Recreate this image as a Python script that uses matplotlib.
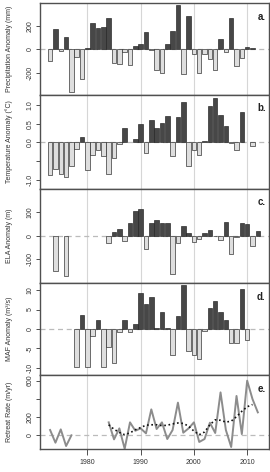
import numpy as np
import matplotlib
matplotlib.use("Agg")
import matplotlib.pyplot as plt

plt.rcParams['font.family'] = ['Liberation Sans', 'DejaVu Sans']

# data
years_p = np.arange(1973, 2012)
precip = [-100, 174, -14, 108, -363, -63, -251, 14, 223, 183, 191, 271, -117, -128,
          -26, -131, 26, 46, 151, -9, -177, -200, 46, 154, 380, -214, 286, -43,
          -206, -43, -80, -177, 89, -20, 266, -146, -77, 23, 14]

years_t = np.arange(1973, 2012)
temp = [-0.875, -0.72, -0.85, -0.94, -0.63, -0.17, 0.14, -0.74, -0.34, -0.2, -0.38,
        -0.86, -0.42, -0.05, 0.375, np.nan, 0.09, 0.5, -0.29, 0.6, 0.38, 0.52, 0.7,
        -0.36, 0.68, 1.09, -0.63, -0.21, -0.35, 0.03, 0.98, 1.18, 0.73, 0.45, -0.03,
        -0.2, 0.81, np.nan, -0.1]

years_e = np.array([1974, 1976] + list(range(1984, 2013)))
ela = [-150, -173, -30, 14, 29, -24, 56, 106, 113, -59, 53, 67, 56, 56, -166, -33,
       43, 10, -27, -16, 13, 24, -1, -20, 57, -80, -4, 54, 51, -46, 20]

years_m = np.arange(1978, 2011)
maf = [-9.7, 3.5, -9.7, -1.7, 2.3, -9.7, -4.6, -8.6, -0.7, 2.3, -0.7, 1.3, 9.3, 6.3,
       8.3, 0.3, 4.4, 0.3, -6.7, 3.3, 11.3, -5.7, -6.7, -7.7, -0.6, 5.4, 7.3, 4.4,
       2.3, -3.6, -3.6, 10.3, -2.7]

years_r1 = np.arange(1973, 1978)
retreat1 = [52, -89, 59, -126, -7]
years_r2 = np.arange(1984, 2013)
retreat2 = [137, -52, 70, -156, 137, 44, 70, 15, 281, 63, 137, -48, 52, 356, 22, 70,
            137, -81, -48, 133, 19, 470, 52, -137, 430, 7, 600, 396, 248]
years_tr = np.arange(1984, 2012)
trend = [110, 60, 25, 0, 20, 55, 80, 105, 110, 110, 100, 105, 120, 130, 125, 95, 40,
         0, 30, 110, 165, 160, 140, 150, 200, 260, 310, 335]

W, H = 270, 472
fig = plt.figure(figsize=(W / 100, H / 100), dpi=100)

left, right = 40, 269
bounds = [(3, 95), (95, 189), (189, 283), (283, 375), (375, 449)]
axes = []
for top, bot in bounds:
    ax = fig.add_axes([left / W, 1 - bot / H, (right - left) / W, (bot - top) / H])
    axes.append(ax)

dark, light = '#474747', '#dedede'
grid_c = '#d6d6d6'
spine_c = '#505050'


def style(ax, ylim, ticks, labels, ylabel, tag, last=False):
    ax.set_xlim(1971.1, 2014.1)
    ax.set_ylim(*ylim)
    for yr in [1980, 1990, 2000, 2010]:
        ax.axvline(yr, color=grid_c, lw=0.8, zorder=0)
    ax.axhline(0, color='#bbbbbb', lw=0.9, ls=(0, (4, 3)), zorder=0)
    ax.set_yticks(ticks)
    ax.set_yticklabels(labels, rotation=90, va='center', fontsize=5)
    ax.tick_params(axis='y', length=3, width=0.6, pad=1.5, colors='#333333')
    if last:
        ax.set_xticks([1980, 1990, 2000, 2010])
        ax.tick_params(axis='x', length=4, width=0.6, pad=3.5, labelsize=5,
                       colors='#333333')
    else:
        ax.set_xticks([])
    for s in ax.spines.values():
        s.set_color(spine_c)
        s.set_linewidth(1.0)
    ax.set_ylabel(ylabel, fontsize=5, color='#333333')
    ax.yaxis.set_label_coords(-0.12, 0.5)
    h = ax.get_position().height * H
    ax.text(0.985, 1 - 13.5 / h, tag, transform=ax.transAxes, ha='right', va='center',
            fontsize=7, fontweight='bold', color='#222222')


def bars(ax, yrs, vals):
    vals = np.asarray(vals, dtype=float)
    yrs = np.asarray(yrs)
    ok = ~np.isnan(vals)
    yrs, vals = yrs[ok], vals[ok]
    cols = [dark if v > 0 else light for v in vals]
    ax.bar(yrs, vals, width=0.85, color=cols, edgecolor='#222222', linewidth=0.45,
           zorder=2)


bars(axes[0], years_p, precip)
style(axes[0], (-392, 397), [-200, 0, 200], ['-200', '0', '200'],
      'Precipitation Anomaly (mm)', 'a.')

bars(axes[1], years_t, temp)
style(axes[1], (-1.252, 1.268), [-1.0, -0.5, 0.0, 0.5, 1.0],
      ['-1.0', '', '0.0', '0.5', '1.0'], 'Temperature Anomaly (°C)', 'b.')

bars(axes[2], years_e, ela)
style(axes[2], (-203, 200), [-100, 0, 100], ['-100', '0', '100'],
      'ELA Anomaly (m)', 'c.')

bars(axes[3], years_m, maf)
style(axes[3], (-11.8, 11.8), [-10, -5, 0, 5, 10], ['-10', '-5', '0', '5', '10'],
      'MAF Anomaly (m³/s)', 'd.')

ax = axes[4]
ax.plot(years_r1, retreat1, color='#8c8c8c', lw=1.4, zorder=2)
ax.plot(years_r2, retreat2, color='#8c8c8c', lw=1.4, zorder=2)
ax.plot(years_tr, trend, color='#111111', lw=1.2, ls=(0, (1, 1.6)), zorder=3)
style(ax, (-159, 663), [0, 200, 400, 600], ['0', '200', '', '600'],
      'Retreat Rate (m/yr)', 'e.', last=True)

fig.savefig('out.png', dpi=100)
